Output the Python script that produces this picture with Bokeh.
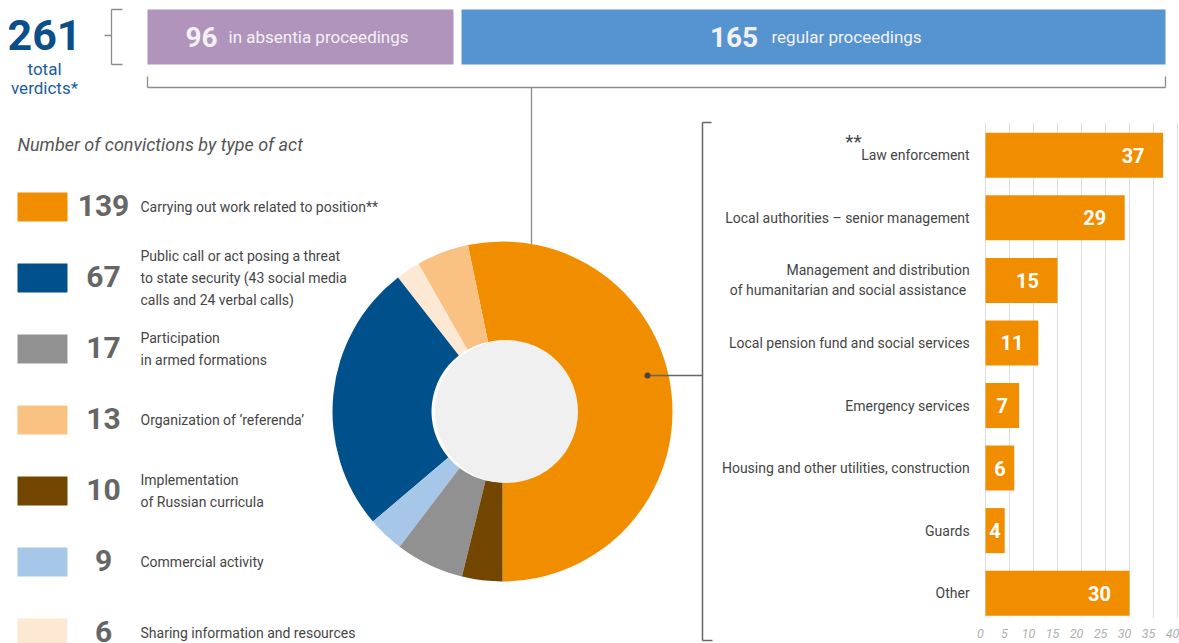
import math
from bokeh.plotting import figure
from bokeh.models import Range1d
from bokeh.core.properties import value
from bokeh.embed import file_html
from bokeh.resources import INLINE

# ---------------- data ----------------
total_verdicts = 261
proceedings_values = [96, 165]
proceedings_labels = ["in absentia proceedings", "regular proceedings"]

act_values = [139, 67, 17, 13, 10, 9, 6]
act_labels = [
    "Carrying out work related to position**",
    "Public call or act posing a threat\nto state security (43 social media\ncalls and 24 verbal calls)",
    "Participation\nin armed formations",
    "Organization of \u2018referenda\u2019",
    "Implementation\nof Russian curricula",
    "Commercial activity",
    "Sharing information and resources",
]
pie_order = [0, 3, 6, 1, 5, 2, 4]

sector_labels = [
    "Law enforcement",
    "Local authorities \u2013 senior management",
    "Management and distribution\nof humanitarian and social assistance ",
    "Local pension fund and social services",
    "Emergency services",
    "Housing and other utilities, construction",
    "Guards",
    "Other",
]
sector_values = [37, 29, 15, 11, 7, 6, 4, 30]
sector_ticks = [0, 5, 10, 15, 20, 25, 30, 35, 40]

# ---------------- styles / layout ----------------
act_colors = ["#f18e00", "#00508c", "#919191", "#f9c282", "#734600", "#a7c7e9", "#fde8d3"]
box_colors = ["#b094bc", "#5594d0"]
ORANGE = "#f18e00"
FONT = value("Roboto")
LINE = "#8c8c8c"
TXT = "#454545"

W, H = 1179, 643
p = figure(width=W, height=H, x_range=Range1d(0, W), y_range=Range1d(-H, 0),
           output_backend="svg", toolbar_location=None, min_border=0,
           x_axis_location=None, y_axis_location=None, outline_line_color=None)
p.grid.visible = False
p.background_fill_color = "white"
p.border_fill_color = "white"


def Y(sy):
    return -sy


# bar chart scales (own ranges)
BX0, BPX = 985.0, 4.8
ROW0, STEP = 154.8, 62.55
p.extra_x_ranges = {"bars": Range1d((0 - BX0) / BPX, (W - BX0) / BPX)}
p.extra_y_ranges = {"bars": Range1d((H - ROW0) / STEP, (0 - ROW0) / STEP)}

# ---------------- header ----------------
p.text(x=[44], y=[Y(34)], text=[str(total_verdicts)], text_font=FONT, text_font_style="bold",
       text_font_size="43px", text_color="#0b4f8a", text_align="center", text_baseline="middle")
p.text(x=[44, 44], y=[Y(68), Y(87)], text=["total", "verdicts*"], text_font=FONT,
       text_font_size="17px", text_color="#1a5d9c", text_align="center", text_baseline="middle")

# left bracket
p.segment(x0=[111, 111, 111, 104], y0=[Y(9), Y(9), Y(64), Y(35)],
          x1=[111, 122, 122, 111], y1=[Y(64), Y(9), Y(64), Y(35)], line_color=LINE, line_width=1.3)

box_left = [147, 461]
box_right = [453, 1165]
p.quad(left=box_left, right=box_right, top=[Y(9)] * 2, bottom=[Y(64)] * 2,
       fill_color=box_colors, line_color=None)
num_x = [201, 733.5]
lab_x = [228, 771]
p.text(x=num_x, y=[Y(36)] * 2, text=[str(v) for v in proceedings_values], text_font=FONT,
       text_font_style="bold", text_font_size="28px", text_color="#f4f1f6",
       text_align="center", text_baseline="middle")
p.text(x=lab_x, y=[Y(36)] * 2, text=proceedings_labels, text_font=FONT,
       text_font_size="17px", text_color="#f4f1f6", text_align="left", text_baseline="middle")

# bottom bracket + connector down to donut
p.segment(x0=[147, 147, 1165, 531], y0=[Y(76), Y(87), Y(76), Y(87)],
          x1=[147, 1165, 1165, 531], y1=[Y(87), Y(87), Y(87), Y(244)],
          line_color=LINE, line_width=1.3)

# ---------------- title ----------------
p.text(x=[17], y=[Y(144)], text=["Number of convictions by type of act"], text_font=FONT,
       text_font_style="italic", text_font_size="18px", text_color="#555555",
       text_align="left", text_baseline="middle")

# ---------------- legend ----------------
LEG0, LSTEP = 206.5, 71.0
ly = [Y(LEG0 + LSTEP * i) for i in range(len(act_values))]
p.rect(x=[42] * len(ly), y=ly, width=50, height=29, fill_color=act_colors, line_color=None)
p.text(x=[103] * len(ly), y=[v + 1.5 for v in ly], text=[str(v) for v in act_values],
       text_font=FONT, text_font_style="bold", text_font_size="30px", text_color="#666666",
       text_align="center", text_baseline="middle")
p.text(x=[140] * len(ly), y=ly, text=act_labels, text_font=FONT, text_font_size="14px",
       text_color=TXT, text_align="left", text_baseline="middle", text_line_height=1.35)

# ---------------- donut ----------------
CX, CY, R_IN, R_OUT = 502, Y(411), 71, 170
total_acts = sum(act_values)
starts, ends, cols = [], [], []
acc = 0
for i in pie_order:
    a0 = -math.pi / 2 + 2 * math.pi * acc / total_acts
    acc += act_values[i]
    a1 = -math.pi / 2 + 2 * math.pi * acc / total_acts
    starts.append(a0)
    ends.append(a1)
    cols.append(act_colors[i])
p.annular_wedge(x=[CX] * len(starts), y=[CY] * len(starts), inner_radius=R_IN, outer_radius=R_OUT,
                start_angle=starts, end_angle=ends, direction="anticlock",
                fill_color=cols, line_color=None)
p.circle(x=[CX + 4], y=[CY], radius=R_IN + 0.5, fill_color="#f0f0f0", line_color=None)

# connector from orange slice to the sector breakdown
p.segment(x0=[647], y0=[Y(375)], x1=[702], y1=[Y(375)], line_color="#666666", line_width=1.3)
p.scatter(x=[647], y=[Y(375)], size=6, fill_color="#444444", line_color=None)
p.segment(x0=[702, 702, 702], y0=[Y(122), Y(122), Y(640)], x1=[702, 711, 712],
          y1=[Y(640), Y(122), Y(640)], line_color="#666666", line_width=1.5)

# ---------------- sector bar chart ----------------
idx = list(range(len(sector_values)))
p.segment(x0=sector_ticks, y0=[-0.52] * len(sector_ticks), x1=sector_ticks,
          y1=[7.39] * len(sector_ticks), line_color="#dddddd", line_width=1,
          x_range_name="bars", y_range_name="bars")
p.hbar(y=idx, left=0, right=sector_values, height=0.72, fill_color=ORANGE, line_color=None,
       x_range_name="bars", y_range_name="bars")
val_x = [max(v / 2.0, v - 6.25) for v in sector_values]
p.text(x=val_x, y=idx, text=[str(v) for v in sector_values], text_font=FONT,
       text_font_style="bold", text_font_size="20px", text_color="white",
       text_align="center", text_baseline="middle", x_range_name="bars", y_range_name="bars")
p.text(x=[-3.3] * len(idx), y=idx, text=sector_labels, text_font=FONT, text_font_size="14px",
       text_color=TXT, text_align="right", text_baseline="middle", text_line_height=1.25,
       x_range_name="bars", y_range_name="bars")
p.text(x=[-27.5], y=[-0.22], text=["**"], text_font=FONT, text_font_size="19px",
       text_color=TXT, text_align="center", text_baseline="middle",
       x_range_name="bars", y_range_name="bars")
p.text(x=sector_ticks, y=[7.64] * len(sector_ticks), text=[str(t) for t in sector_ticks],
       x_offset=-5, text_font=FONT, text_font_style="italic", text_font_size="12.5px",
       text_color="#b0b0b0", text_align="center", text_baseline="middle",
       x_range_name="bars", y_range_name="bars")

open("out.html", "w").write(file_html(p, INLINE))
